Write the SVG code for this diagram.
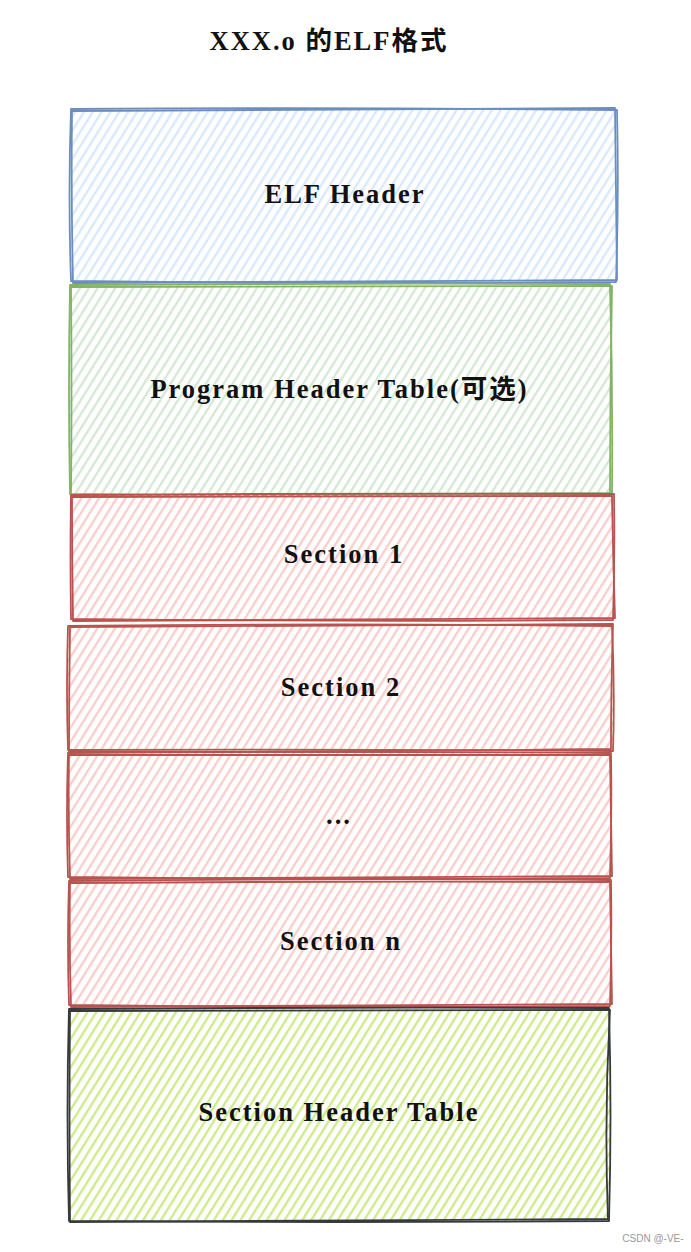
<svg xmlns="http://www.w3.org/2000/svg" width="691" height="1252" viewBox="0 0 691 1252">
<style>
.t{font-family:"Liberation Serif","Noto Sans CJK SC",serif;font-weight:bold;font-size:26.5px;letter-spacing:2px;fill:#111;text-anchor:middle;dominant-baseline:central}
.b{fill:none;stroke-width:1.8;stroke-linejoin:round;stroke-linecap:round}
.blue{stroke:#6c8ebf}.green{stroke:#82b366}.red{stroke:#b85450}.dark{stroke:#36393d}
</style>
<defs>
<pattern id="hb" width="7.5" height="8" patternUnits="userSpaceOnUse" patternTransform="rotate(32)"><line x1="3" y1="0" x2="3" y2="8" stroke="#dae8fc" stroke-width="2.4"/></pattern>
<pattern id="hg" width="7.5" height="8" patternUnits="userSpaceOnUse" patternTransform="rotate(32)"><line x1="3" y1="0" x2="3" y2="8" stroke="#d5e8d4" stroke-width="2.4"/></pattern>
<pattern id="hr" width="7.5" height="8" patternUnits="userSpaceOnUse" patternTransform="rotate(32)"><line x1="3" y1="0" x2="3" y2="8" stroke="#f8cecc" stroke-width="2.4"/></pattern>
<pattern id="hy" width="7.5" height="8" patternUnits="userSpaceOnUse" patternTransform="rotate(32)"><line x1="3" y1="0" x2="3" y2="8" stroke="#cdeb8b" stroke-width="2.4"/></pattern>
</defs>
<text class="t" x="329" y="41">XXX.o 的ELF格式</text>
<g id="elf-header">
<rect x="71" y="109" width="546" height="173" fill="url(#hb)"/>
<path class="b blue" d="M71 109 Q340 107 617 110 Q619 195 616 282 Q340 284 71 281 Q68 195 71 109Z"/>
<path class="b blue" d="M72 111 Q340 109 615 108 Q616 195 617 280 Q340 282 73 283 Q71 195 72 111Z"/>
<text class="t" x="345" y="194">ELF Header</text>
</g>
<g id="program-header-table">
<rect x="70" y="285" width="542" height="210" fill="url(#hg)"/>
<path class="b green" d="M70 285 Q340 283 610 284 Q613 390 612 495 Q340 497 70 494 Q68 390 70 285Z"/>
<path class="b green" d="M71 287 Q340 286 612 286 Q610 390 610 493 Q340 495 71 496 Q72 390 71 287Z"/>
<text class="t" x="339.5" y="389">Program Header Table(可选)</text>
</g>
<g id="section-1">
<rect x="71" y="495" width="543" height="125" fill="url(#hr)"/>
<path class="b red" d="M71 495 Q340 493 614 494 Q615 558 613 620 Q340 622 71 619 Q70 558 71 495Z"/>
<path class="b red" d="M72 497 Q340 496 612 496 Q613 558 615 618 Q340 620 73 621 Q72 558 72 497Z"/>
<text class="t" x="344" y="554">Section 1</text>
</g>
<g id="section-2">
<rect x="68" y="626" width="545" height="125" fill="url(#hr)"/>
<path class="b red" d="M68 626 Q340 623 612 626 Q615 690 613 751 Q340 749 68 750 Q66 690 68 626Z"/>
<path class="b red" d="M70 627 Q340 626 613 624 Q611 690 611 749 Q340 752 69 752 Q69 690 70 627Z"/>
<text class="t" x="341" y="687">Section 2</text>
</g>
<g id="section-dots">
<rect x="68" y="753" width="543" height="125" fill="url(#hr)"/>
<path class="b red" d="M68 753 Q340 751 611 753 Q612 815 610 878 Q340 880 68 877 Q66 815 68 753Z"/>
<path class="b red" d="M69 755 Q340 754 610 755 Q611 815 612 876 Q340 878 70 879 Q68 815 69 755Z"/>
<text class="t" x="339" y="815">...</text>
</g>
<g id="section-n">
<rect x="69" y="881" width="542" height="125" fill="url(#hr)"/>
<path class="b red" d="M69 881 Q340 878 611 880 Q612 943 610 1006 Q340 1008 69 1005 Q67 943 69 881Z"/>
<path class="b red" d="M70 883 Q340 881 610 882 Q611 943 612 1004 Q340 1006 71 1007 Q69 943 70 883Z"/>
<text class="t" x="341" y="941">Section n</text>
</g>
<g id="section-header-table">
<rect x="69" y="1009" width="541" height="212" fill="url(#hy)"/>
<path class="b dark" d="M69 1009 Q340 1007 609 1008 Q612 1115 609 1221 Q340 1223 69 1221 Q66 1115 69 1009Z"/>
<path class="b dark" d="M70 1011 Q340 1010 610 1010 Q604 1115 608 1219 Q340 1221 70 1222 Q69 1115 70 1011Z"/>
<text class="t" x="339" y="1112">Section Header Table</text>
</g>
<g id="connectors"></g>
<text x="653" y="1238" font-family="Liberation Sans, sans-serif" font-size="10" fill="#999" text-anchor="middle" dominant-baseline="central">CSDN @-VE-</text>
</svg>
